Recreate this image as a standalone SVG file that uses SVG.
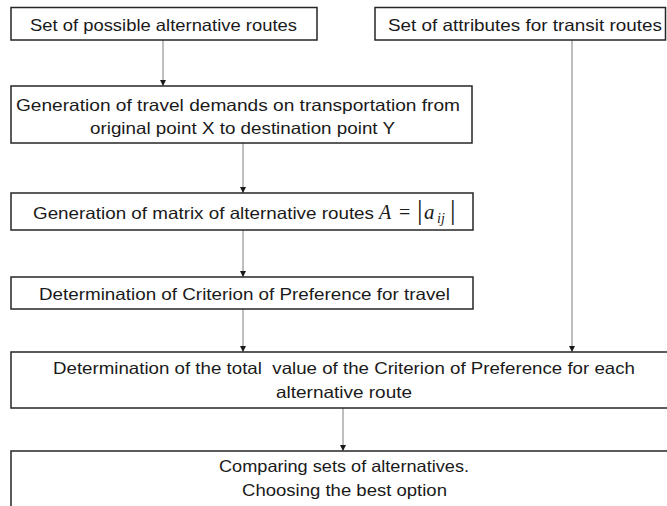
<svg xmlns="http://www.w3.org/2000/svg" width="667" height="506" viewBox="0 0 667 506">
<defs>
<style>
.box{fill:#fff;stroke:#262626;stroke-width:1.5}
.t{font-family:"Liberation Sans",Arial,sans-serif;font-size:16.5px;fill:#1a1a1a;white-space:pre}
.m{font-family:"Liberation Serif","Times New Roman",serif;fill:#1a1a1a}
.c{stroke:#7f7f7f;stroke-width:1;fill:none;marker-end:url(#ah)}
</style>
<marker id="ah" markerUnits="userSpaceOnUse" markerWidth="7" markerHeight="7" refX="6" refY="3.5" orient="auto">
<path d="M0,0.5 L6,3.5 L0,6.5 z" fill="#1a1a1a"/>
</marker>
</defs>
<rect width="667" height="506" fill="#fff"/>
<g id="connectors">
<line class="c" x1="163" y1="40" x2="163" y2="86"/>
<line class="c" x1="572" y1="40" x2="572" y2="352"/>
<line class="c" x1="243" y1="143" x2="243" y2="193"/>
<line class="c" x1="243" y1="230" x2="243" y2="277"/>
<line class="c" x1="243" y1="309" x2="243" y2="352"/>
<line class="c" x1="343" y1="408" x2="343" y2="451"/>
</g>
<g id="n1">
<rect class="box" x="11" y="7.5" width="306" height="32.5"/>
<text class="t" x="30" y="31" textLength="267" lengthAdjust="spacingAndGlyphs">Set of possible alternative routes</text>
</g>
<g id="n2">
<rect class="box" x="375" y="7.5" width="290.5" height="32.5"/>
<text class="t" x="388" y="31" textLength="274" lengthAdjust="spacingAndGlyphs">Set of attributes for transit routes</text>
</g>
<g id="n3">
<rect class="box" x="11" y="86" width="461" height="57"/>
<text class="t" x="16" y="111" textLength="444" lengthAdjust="spacingAndGlyphs">Generation of travel demands on transportation from</text>
<text class="t" x="90" y="134" textLength="305" lengthAdjust="spacingAndGlyphs">original point X to destination point Y</text>
</g>
<g id="n4">
<rect class="box" x="11" y="193" width="462" height="37"/>
<text class="t" x="33" y="219" textLength="341" lengthAdjust="spacingAndGlyphs">Generation of matrix of alternative routes</text>
<text class="m" x="379" y="219" font-size="20" font-style="italic">A</text>
<text class="m" x="399" y="219" font-size="20">=</text>
<text class="m" x="417" y="219" font-size="28">|</text>
<text class="m" x="424" y="219" font-size="21" font-style="italic">a</text>
<text class="m" x="437" y="223" font-size="14" font-style="italic">ij</text>
<text class="m" x="450" y="219" font-size="28">|</text>
</g>
<g id="n5">
<rect class="box" x="11" y="277" width="462" height="32"/>
<text class="t" x="39" y="300" textLength="411" lengthAdjust="spacingAndGlyphs">Determination of Criterion of Preference for travel</text>
</g>
<g id="n6">
<rect class="box" x="11" y="352" width="680" height="56"/>
<text class="t" x="53" y="374" textLength="582" lengthAdjust="spacingAndGlyphs">Determination of the total  value of the Criterion of Preference for each</text>
<text class="t" x="276" y="398" textLength="136" lengthAdjust="spacingAndGlyphs">alternative route</text>
</g>
<g id="n7">
<rect class="box" x="11" y="451" width="680" height="80"/>
<text class="t" x="219" y="472" textLength="250" lengthAdjust="spacingAndGlyphs">Comparing sets of alternatives.</text>
<text class="t" x="242" y="496" textLength="205" lengthAdjust="spacingAndGlyphs">Choosing the best option</text>
</g>
</svg>
